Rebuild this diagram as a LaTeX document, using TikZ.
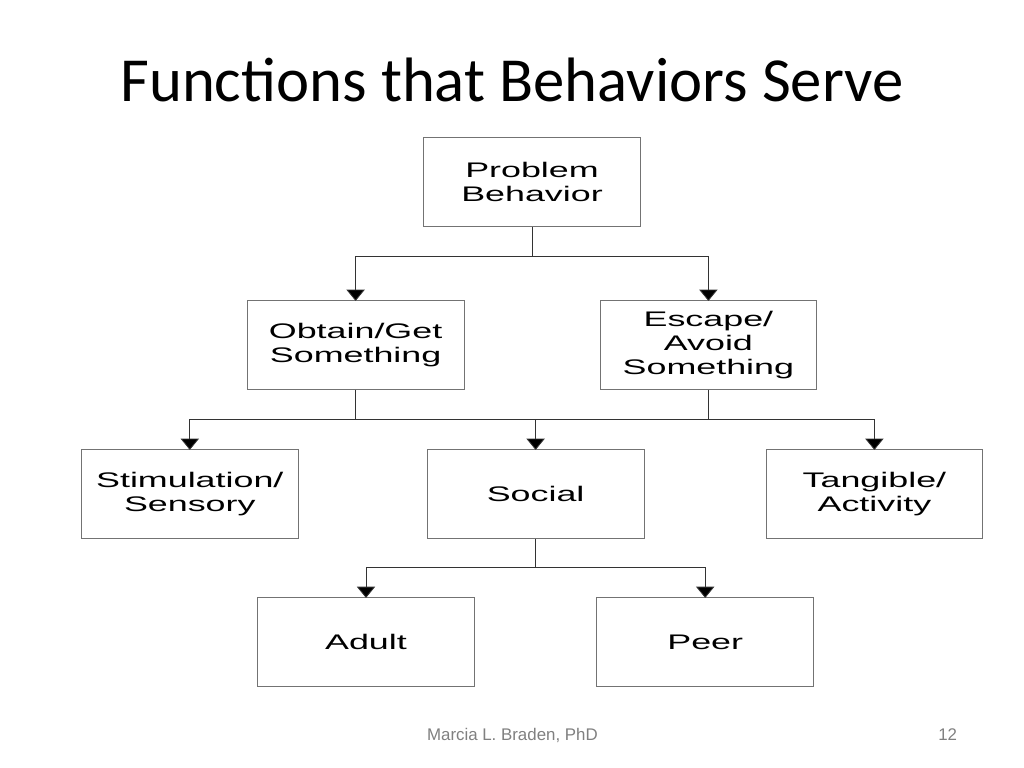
\documentclass[tikz,border=0pt]{standalone}
\usepackage{fontspec}
\setmainfont{Liberation Sans}
\newfontfamily\titlefont{Carlito}
\newfontfamily\boxfont[FakeStretch=1.7]{Liberation Sans}
\usetikzlibrary{arrows.meta,positioning,calc}

\begin{document}
\begin{tikzpicture}[
        box/.style={draw=black!55, line width=0.6pt, fill=white, minimum width=5.42cm, minimum height=2.225cm,
            inner sep=0pt, outer sep=0pt, align=center, font=\boxfont\fontsize{15}{17}\selectfont},
        link/.style={draw=black!80, line width=0.6pt},
        arr/.style={link, -{Triangle[length=8pt, width=13pt, fill=black]}}
    ]
    \useasboundingbox (0,0) rectangle (25.6,-19.2);

    \node (title) [anchor=base, font=\titlefont\fontsize{44.6}{52}\selectfont] at (12.8,-2.55) {Functions that Behaviors Serve};

    \node (pb) [box] at (13.3,-4.56) {Problem\\Behavior};
    \node (obt) [box, below=1.85cm of pb, xshift=-4.41cm] {Obtain/Get\\Something};
    \node (esc) [box, below=1.85cm of pb, xshift=4.41cm] {Escape/\\Avoid\\Something};

    \node (soc) [box, below=1.5cm of obt, xshift=4.5cm] {Social};
    \node (stim) [box, left=3.225cm of soc] {Stimulation/\\Sensory};
    \node (tang) [box, right=3.05cm of soc] {Tangible/\\Activity};

    \node (adult) [box, below=1.475cm of soc, xshift=-4.24cm] {Adult};
    \node (peer) [box, below=1.475cm of soc, xshift=4.24cm] {Peer};

    % branch points
    \coordinate (j1) at ($(pb.south)+(0,-0.75)$);
    \coordinate (j2) at ($(obt.south)+(0,-0.75)$);
    \coordinate (j3) at (esc.south |- j2);
    \coordinate (j4) at ($(soc.south)+(0,-0.725)$);

    \draw[link] (pb.south) -- (j1);
    \draw[arr] (j1) -| (obt.north);
    \draw[arr] (j1) -| (esc.north);

    \draw[link] (obt.south) -- (j2);
    \draw[link] (esc.south) -- (j3);
    \draw[link] (j2) -- (j3);
    \draw[arr] (j2) -| (stim.north);
    \draw[arr] (j2) -| (soc.north);
    \draw[arr] (j3) -| (tang.north);

    \draw[link] (soc.south) -- (j4);
    \draw[arr] (j4) -| (adult.north);
    \draw[arr] (j4) -| (peer.north);

    \node (author) [anchor=base, text=black!50, font=\fontsize{12}{14}\selectfont] at (12.81,-18.5) {Marcia L. Braden, PhD};
    \node (page) [anchor=base east, text=black!50, font=\fontsize{12}{14}\selectfont] at (24.05,-18.5) {12};
\end{tikzpicture}
\end{document}
